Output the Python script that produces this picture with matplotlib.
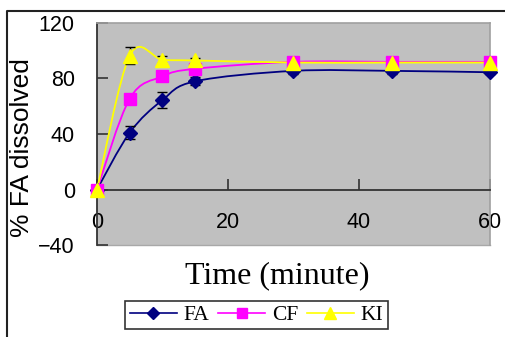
import numpy as np
import matplotlib
matplotlib.use("Agg")
import matplotlib.pyplot as plt
from matplotlib.path import Path
from matplotlib.patches import PathPatch
from matplotlib.lines import Line2D

time = [0, 5, 10, 15, 30, 45, 60]
fa = [0, 41, 64.5, 78, 85.5, 85.5, 84.5]
fa_err = [0, 4.5, 6, 3, 2, 2, 1]
cf = [0, 65.5, 81.5, 87, 92, 92, 92]
cf_err = [0, 1, 1.5, 1.5, 1, 1, 1]
ki = [0, 96.5, 93.5, 93, 91.5, 91.5, 91.5]
ki_err = [0, 6, 2.5, 2, 1, 1, 1]

series = [
    ("FA", fa, fa_err, "#000080", "D", 7),
    ("CF", cf, cf_err, "#FF00FF", "s", 8.5),
    ("KI", ki, ki_err, "#FFFF00", "^", 9.5),
]

xticks = [0, 20, 40, 60]
yticks = [-40, 0, 40, 80, 120]

W, H = 506, 337
fig = plt.figure(figsize=(W / 100, H / 100), dpi=100)
ax = fig.add_axes([97 / W, 1 - 245 / H, 393 / W, 222 / H])
ax.set_facecolor("#C0C0C0")
ax.set_xlim(0, 60)
ax.set_ylim(-40, 120)


def smooth_path(x, y):
    pts = np.column_stack([x, y]).astype(float)
    n = len(pts)
    verts = [pts[0]]
    codes = [Path.MOVETO]
    for i in range(n - 1):
        p0 = pts[i - 1] if i > 0 else pts[i]
        p1 = pts[i]
        p2 = pts[i + 1]
        p3 = pts[i + 2] if i + 2 < n else pts[i + 1]
        c1 = p1 + (p2 - p0) / 6.0
        c2 = p2 - (p3 - p1) / 6.0
        verts += [c1, c2, p2]
        codes += [Path.CURVE4] * 3
    return Path(verts, codes)


handles = []
for name, vals, err, col, mk, ms in series:
    patch = PathPatch(smooth_path(time, vals), facecolor="none", edgecolor=col,
                      lw=1.3, zorder=3, clip_on=False)
    ax.add_patch(patch)
    ax.errorbar(time, vals, yerr=err, fmt="none", ecolor="black", elinewidth=1,
                capsize=3.5, capthick=1, zorder=4, clip_on=False)
    ax.plot(time, vals, linestyle="none", marker=mk, markersize=ms, color=col,
            markeredgecolor=col, zorder=5, clip_on=False)
    handles.append(Line2D([], [], color=col, lw=1.2, marker=mk,
                          markersize=ms * 0.85, markeredgecolor=col, label=name))

ax.spines["bottom"].set_position(("data", 0))
ax.spines["bottom"].set_color("#333333")
ax.spines["bottom"].set_linewidth(1.3)
ax.spines["left"].set_color("#333333")
ax.spines["left"].set_linewidth(1.3)
for s in ["top", "right"]:
    ax.spines[s].set_color("#A0A0A0")
    ax.spines[s].set_linewidth(1.2)
# bottom edge line of plot area
ax.plot([0, 60], [-40, -40], color="#A8A8A8", lw=1, zorder=1, clip_on=False)

ax.set_xticks(xticks)
ax.set_yticks(yticks)
ax.tick_params(axis="x", direction="in", length=8, width=1.2, color="#333333",
               pad=16, labelsize=15.5)
ax.tick_params(axis="y", direction="in", length=8, width=1.2, color="#333333",
               pad=16, labelsize=15.5)
for lab in ax.get_xticklabels() + ax.get_yticklabels():
    lab.set_fontfamily("Liberation Sans")

fig.text(22 / W, 1 - 148 / H, "% FA dissolved", rotation=90, ha="center",
         va="center", fontsize=19, family="Liberation Sans")
fig.text(277 / W, 1 - 276 / H, "Time (minute)", ha="center", va="center",
         fontsize=23, family="Liberation Serif")

leg = fig.legend(handles=handles, loc="center", bbox_to_anchor=(256.5 / W, 1 - 315 / H),
                 ncol=3, frameon=True, fancybox=False, handlelength=2.2,
                 handletextpad=0.3, columnspacing=0.4, borderpad=0.2,
                 borderaxespad=0, prop={"family": "Liberation Serif", "size": 15.5})
leg.get_frame().set_edgecolor("black")
leg.get_frame().set_linewidth(1.2)

# outer frame (left and top edges visible)
fig.add_artist(Line2D([7 / W, 7 / W, 1.0], [0.0, 1 - 11 / H, 1 - 11 / H],
                      transform=fig.transFigure, color="#222222", lw=1.5))

fig.savefig("out.png", dpi=100)
